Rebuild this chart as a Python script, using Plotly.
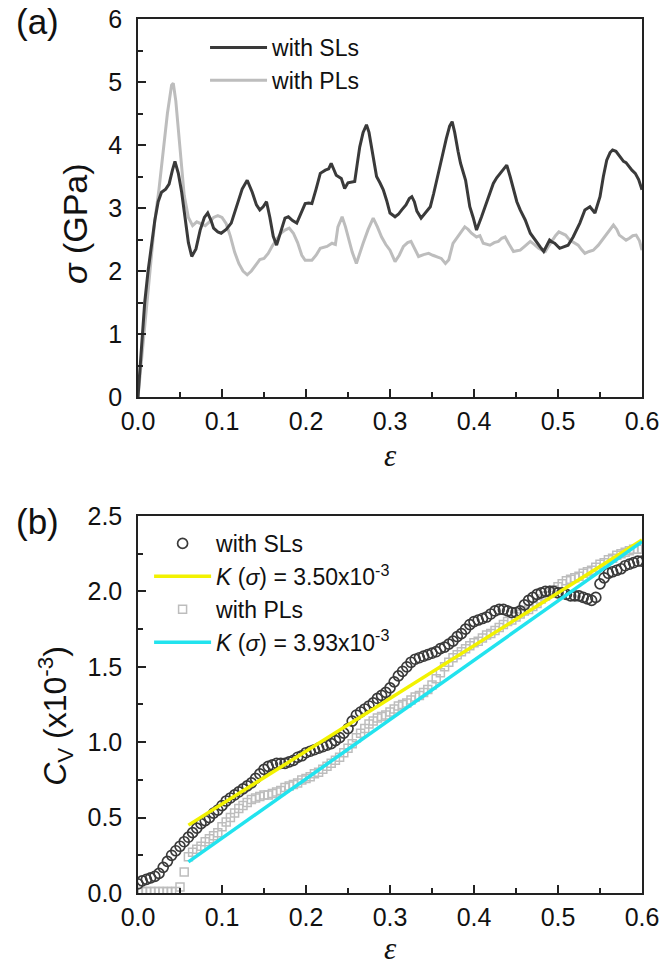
import plotly.graph_objects as go

# ---------------- Panel (a): stress-strain ----------------
strain_SL = [0.000, 0.004, 0.008, 0.012, 0.016, 0.020, 0.024, 0.028, 0.033, 0.037, 0.041, 0.044,
             0.048, 0.052, 0.056, 0.060, 0.064, 0.069, 0.074, 0.079, 0.083, 0.087, 0.090, 0.095,
             0.099, 0.105, 0.111, 0.118, 0.124, 0.130, 0.136, 0.141, 0.145, 0.149, 0.153, 0.157,
             0.161, 0.165, 0.170, 0.175, 0.179, 0.184, 0.189, 0.194, 0.199, 0.203, 0.207, 0.212,
             0.217, 0.223, 0.227, 0.230, 0.233, 0.236, 0.242, 0.246, 0.250, 0.255, 0.258, 0.261,
             0.264, 0.268, 0.272, 0.275, 0.278, 0.281, 0.284, 0.288, 0.292, 0.296, 0.300, 0.306,
             0.310, 0.314, 0.319, 0.323, 0.326, 0.329, 0.332, 0.337, 0.342, 0.348, 0.352, 0.357,
             0.362, 0.367, 0.371, 0.374, 0.377, 0.381, 0.384, 0.390, 0.395, 0.399, 0.403, 0.409,
             0.413, 0.417, 0.423, 0.427, 0.431, 0.435, 0.439, 0.443, 0.447, 0.451, 0.455, 0.461,
             0.467, 0.471, 0.475, 0.479, 0.483, 0.487, 0.490, 0.493, 0.496, 0.502, 0.507, 0.512,
             0.518, 0.522, 0.526, 0.532, 0.538, 0.544, 0.550, 0.554, 0.558, 0.562, 0.565, 0.569,
             0.572, 0.576, 0.578, 0.581, 0.584, 0.588, 0.592, 0.596, 0.600]
stress_SL = [0.00, 0.80, 1.50, 2.00, 2.45, 2.80, 3.10, 3.25, 3.30, 3.38, 3.60, 3.74,
             3.55, 3.25, 2.85, 2.45, 2.23, 2.35, 2.65, 2.85, 2.92, 2.80, 2.68, 2.62,
             2.60, 2.66, 2.76, 3.05, 3.30, 3.44, 3.25, 3.05, 2.97, 3.02, 3.10, 2.85,
             2.55, 2.41, 2.62, 2.84, 2.86, 2.80, 2.76, 2.92, 3.07, 3.08, 3.07, 3.30,
             3.55, 3.60, 3.62, 3.71, 3.62, 3.52, 3.47, 3.31, 3.40, 3.42, 3.42, 3.70,
             3.97, 4.20, 4.32, 4.20, 3.97, 3.70, 3.50, 3.40, 3.29, 3.12, 2.92, 2.86,
             2.90, 2.97, 3.05, 3.15, 3.18, 3.10, 2.95, 2.84, 2.92, 3.02, 3.23, 3.50,
             3.81, 4.10, 4.30, 4.37, 4.20, 3.90, 3.71, 3.44, 3.02, 2.85, 2.65, 2.86,
             3.02, 3.18, 3.39, 3.48, 3.55, 3.62, 3.68, 3.50, 3.29, 3.10, 2.97, 2.81,
             2.60, 2.52, 2.44, 2.38, 2.31, 2.40, 2.49, 2.46, 2.44, 2.36, 2.38, 2.41,
             2.54, 2.65, 2.76, 2.97, 3.02, 2.92, 3.18, 3.50, 3.76, 3.88, 3.92, 3.90,
             3.84, 3.78, 3.74, 3.72, 3.66, 3.60, 3.55, 3.45, 3.29]

strain_PL = [0.000, 0.005, 0.010, 0.015, 0.020, 0.025, 0.030, 0.035, 0.040, 0.042, 0.045, 0.050,
             0.055, 0.060, 0.065, 0.070, 0.075, 0.080, 0.085, 0.090, 0.095, 0.100, 0.105, 0.110,
             0.115, 0.120, 0.125, 0.130, 0.135, 0.140, 0.145, 0.150, 0.155, 0.160, 0.165, 0.170,
             0.175, 0.180, 0.185, 0.190, 0.195, 0.199, 0.207, 0.212, 0.217, 0.225, 0.231, 0.235,
             0.238, 0.243, 0.247, 0.250, 0.255, 0.260, 0.264, 0.268, 0.274, 0.280, 0.285, 0.290,
             0.295, 0.300, 0.306, 0.311, 0.316, 0.321, 0.325, 0.330, 0.334, 0.340, 0.346, 0.351,
             0.356, 0.361, 0.366, 0.370, 0.375, 0.381, 0.386, 0.389, 0.393, 0.397, 0.403, 0.407,
             0.411, 0.415, 0.419, 0.424, 0.429, 0.433, 0.437, 0.442, 0.447, 0.451, 0.455, 0.461,
             0.467, 0.472, 0.477, 0.481, 0.485, 0.489, 0.493, 0.497, 0.501, 0.505, 0.509, 0.514,
             0.519, 0.524, 0.528, 0.532, 0.537, 0.542, 0.548, 0.552, 0.556, 0.561, 0.566, 0.570,
             0.573, 0.577, 0.581, 0.585, 0.589, 0.593, 0.597, 0.600]
stress_PL = [0.00, 0.70, 1.50, 2.20, 2.80, 3.30, 3.90, 4.50, 4.95, 4.98, 4.70, 3.90,
             3.20, 2.85, 2.72, 2.78, 2.75, 2.72, 2.78, 2.85, 2.88, 2.85, 2.75, 2.55,
             2.30, 2.12, 2.00, 1.94, 2.00, 2.10, 2.18, 2.20, 2.28, 2.40, 2.50, 2.60,
             2.65, 2.68, 2.60, 2.45, 2.25, 2.17, 2.17, 2.25, 2.36, 2.39, 2.44, 2.42,
             2.70, 2.86, 2.70, 2.54, 2.30, 2.12, 2.30, 2.44, 2.66, 2.84, 2.70, 2.54,
             2.42, 2.33, 2.15, 2.25, 2.39, 2.45, 2.47, 2.35, 2.23, 2.26, 2.28, 2.25,
             2.23, 2.20, 2.12, 2.18, 2.44, 2.55, 2.65, 2.70, 2.66, 2.60, 2.54, 2.56,
             2.44, 2.43, 2.41, 2.45, 2.47, 2.52, 2.54, 2.42, 2.31, 2.32, 2.33, 2.40,
             2.47, 2.42, 2.36, 2.33, 2.31, 2.40, 2.49, 2.56, 2.62, 2.60, 2.57, 2.49,
             2.45, 2.41, 2.34, 2.28, 2.31, 2.33, 2.41, 2.48, 2.54, 2.64, 2.73, 2.66,
             2.57, 2.53, 2.49, 2.52, 2.56, 2.57, 2.48, 2.33]

# ---------------- Panel (b): Cv vs strain ----------------
strain_Cv = [i * 0.005 for i in range(121)]
Cv_SL = [0.06, 0.08, 0.09, 0.10, 0.11, 0.13, 0.17, 0.21, 0.25, 0.28,
         0.31, 0.34, 0.37, 0.40, 0.43, 0.46, 0.48, 0.50, 0.53, 0.55,
         0.58, 0.61, 0.63, 0.65, 0.67, 0.69, 0.71, 0.73, 0.76, 0.79,
         0.82, 0.84, 0.85, 0.86, 0.86, 0.86, 0.87, 0.88, 0.90, 0.91,
         0.93, 0.94, 0.95, 0.96, 0.97, 0.98, 0.99, 1.01, 1.03, 1.06,
         1.09, 1.14, 1.18, 1.20, 1.22, 1.24, 1.26, 1.29, 1.31, 1.33,
         1.36, 1.40, 1.44, 1.47, 1.50, 1.53, 1.55, 1.56, 1.57, 1.58,
         1.59, 1.60, 1.62, 1.63, 1.65, 1.67, 1.70, 1.72, 1.75, 1.78,
         1.80, 1.81, 1.82, 1.83, 1.85, 1.87, 1.88, 1.88, 1.87, 1.86,
         1.86, 1.87, 1.91, 1.94, 1.96, 1.98, 1.99, 2.00, 2.00, 2.00,
         1.99, 1.99, 1.98, 1.97, 1.97, 1.97, 1.96, 1.95, 1.94, 1.96,
         2.05, 2.09, 2.12, 2.13, 2.14, 2.15, 2.17, 2.18, 2.19, 2.20,
         2.20]
Cv_PL = [0.01, 0.01, 0.01, 0.01, 0.01, 0.01, 0.01, 0.01, 0.01, 0.01,
         0.04, 0.14, 0.24, 0.27, 0.29, 0.31, 0.34, 0.36, 0.38, 0.40,
         0.44, 0.47, 0.50, 0.53, 0.56, 0.58, 0.60, 0.62, 0.63, 0.64,
         0.65, 0.65, 0.66, 0.67, 0.68, 0.70, 0.71, 0.72, 0.73, 0.75,
         0.76, 0.77, 0.79, 0.80, 0.82, 0.84, 0.86, 0.88, 0.90, 0.93,
         0.96, 0.99, 1.03, 1.06, 1.09, 1.12, 1.14, 1.16, 1.17, 1.18,
         1.20, 1.22, 1.24, 1.25, 1.26, 1.28, 1.30, 1.31, 1.33, 1.35,
         1.38, 1.42, 1.46, 1.50, 1.53, 1.56, 1.58, 1.60, 1.62, 1.64,
         1.66, 1.67, 1.69, 1.71, 1.72, 1.74, 1.76, 1.78, 1.80, 1.81,
         1.83, 1.85, 1.87, 1.88, 1.90, 1.92, 1.95, 1.97, 1.99, 2.01,
         2.03, 2.05, 2.07, 2.08, 2.09, 2.10, 2.12, 2.13, 2.14, 2.16,
         2.18, 2.19, 2.21, 2.22, 2.24, 2.25, 2.26, 2.27, 2.28, 2.28,
         2.28]

fit_x = [0.06, 0.60]
fit_SL = [0.45, 2.34]   # K(sigma) = 3.50x10^-3
fit_PL = [0.206, 2.33]  # K(sigma) = 3.93x10^-3

# ---------------- styling ----------------
FONT = "Arial, 'Liberation Sans', sans-serif"
SERIF = "'Liberation Serif', 'Times New Roman', serif"
DARK = "#3a3a3a"
LIGHT = "#bdbdbd"
YELLOW = "#f2f200"
CYAN = "#22e3ee"

fig = go.Figure()

fig.add_trace(go.Scatter(x=strain_PL, y=stress_PL, mode="lines", name="with PLs",
                         line=dict(color=LIGHT, width=3), xaxis="x", yaxis="y",
                         legend="legend", legendrank=2))
fig.add_trace(go.Scatter(x=strain_SL, y=stress_SL, mode="lines", name="with SLs",
                         line=dict(color=DARK, width=3), xaxis="x", yaxis="y",
                         legend="legend", legendrank=1))

fig.add_trace(go.Scatter(x=strain_Cv, y=Cv_PL, mode="markers", name="with PLs",
                         marker=dict(symbol="square-open", size=8, color=LIGHT,
                                     line=dict(width=1.5, color=LIGHT)),
                         xaxis="x2", yaxis="y2", legend="legend2", legendrank=3))
fig.add_trace(go.Scatter(x=strain_Cv, y=Cv_SL, mode="markers", name="with SLs",
                         marker=dict(symbol="circle-open", size=10, color=DARK,
                                     line=dict(width=1.7, color=DARK)),
                         xaxis="x2", yaxis="y2", legend="legend2", legendrank=1))
fig.add_trace(go.Scatter(x=fit_x, y=fit_SL, mode="lines",
                         name="<i>K</i> (<i>σ</i>) = 3.50x10<sup>-3</sup>",
                         line=dict(color=YELLOW, width=3.5),
                         xaxis="x2", yaxis="y2", legend="legend2", legendrank=2))
fig.add_trace(go.Scatter(x=fit_x, y=fit_PL, mode="lines",
                         name="<i>K</i> (<i>σ</i>) = 3.93x10<sup>-3</sup>",
                         line=dict(color=CYAN, width=3.5),
                         xaxis="x2", yaxis="y2", legend="legend2", legendrank=4))

axis_common = dict(showgrid=False, zeroline=False, showline=True, linecolor="#222",
                   linewidth=1.5, mirror=True, ticks="inside", ticklen=8, tickwidth=1.5,
                   tickcolor="#222", automargin=False, ticklabeloverflow="allow",
                   tickfont=dict(family=FONT, size=25, color="#111"))
minor_common = dict(ticks="inside", ticklen=5, tickwidth=1.5, tickcolor="#222")

fig.update_layout(
    template="none",
    width=661, height=968, autosize=False,
    margin=dict(l=138, r=19, t=19, b=75, autoexpand=False),
    paper_bgcolor="white", plot_bgcolor="white",
    font=dict(family=FONT, color="#111"),
    showlegend=True,
    xaxis=dict(domain=[0, 1], anchor="y", range=[0, 0.6], dtick=0.1, tickformat=".1f",
               ticklabelstandoff=1, minor=dict(dtick=0.05, **minor_common), **axis_common),
    yaxis=dict(domain=[0.5675, 1], anchor="x", range=[0, 6], dtick=1, tickformat="d",
               ticklabelstandoff=9, minor=dict(dtick=0.5, **minor_common), **axis_common),
    xaxis2=dict(domain=[0, 1], anchor="y2", range=[0, 0.6], dtick=0.1, tickformat=".1f",
                ticklabelstandoff=1, minor=dict(dtick=0.05, **minor_common), **axis_common),
    yaxis2=dict(domain=[0, 0.4314], anchor="x2", range=[0, 2.5], dtick=0.5, tickformat=".1f",
                ticklabelstandoff=9, minor=dict(dtick=0.25, **minor_common), **axis_common),
    legend=dict(x=0.133, y=0.992, xanchor="left", yanchor="top", bgcolor="rgba(0,0,0,0)",
                borderwidth=0, font=dict(family=FONT, size=23, color="#111"),
                tracegroupgap=0, itemwidth=57),
    legend2=dict(x=0.022, y=0.4245, xanchor="left", yanchor="top", bgcolor="rgba(0,0,0,0)",
                 borderwidth=0, font=dict(family=FONT, size=23, color="#111"),
                 tracegroupgap=0, itemwidth=57),
)

annots = [
    dict(text="(a)", x=-0.2, y=1.0217, yanchor="top", font=dict(size=35)),
    dict(text="(b)", x=-0.2, y=0.4256, font=dict(size=35)),
    dict(text="<i>ε</i>", x=0.5, y=0.501, font=dict(size=31, family=SERIF)),
    dict(text="<i>ε</i>", x=0.5, y=-0.064, font=dict(size=31, family=SERIF)),
    dict(text="<i>σ</i> (GPa)", x=-0.125, y=0.7654, textangle=-90, font=dict(size=34)),
    dict(text="<i>C</i><sub>V</sub> (x10<sup>-3</sup>)", x=-0.165, y=0.2025, textangle=-90,
         font=dict(size=32)),
]
for a in annots:
    fig.add_annotation(xref="paper", yref="paper", showarrow=False,
                       xanchor="center", yanchor=a.get("yanchor", "middle"),
                       font=dict(family=a["font"].get("family", FONT), size=a["font"]["size"],
                                 color="#111"),
                       text=a["text"], x=a["x"], y=a["y"], textangle=a.get("textangle", 0))

# remove the browser's default 8px body margin so the 661x968 figure fills the window
fig.write_html("out.html", config={"displayModeBar": False},
               post_script="document.body.style.margin='0px';")
